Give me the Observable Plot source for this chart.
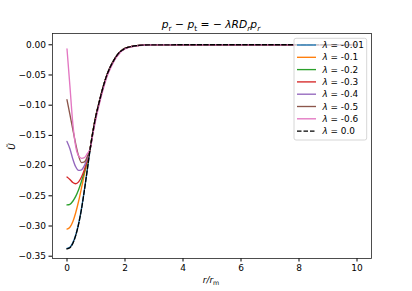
<!DOCTYPE html>
<html><head><meta charset="utf-8">
<script src="https://cdn.jsdelivr.net/npm/d3@7"></script>
<script src="https://cdn.jsdelivr.net/npm/@observablehq/plot@0.6"></script>
<style>body{margin:0;background:#fff} svg{display:block}</style>
</head><body><div id="chart"></div>
<script>
// r / r_m sample positions
const r = [0,0.1,0.2,0.3,0.4,0.5,0.6,0.7,0.8,0.9,1.0,1.1,1.2,1.3,1.4,1.5,1.6,1.7,1.8,1.9,2.0,2.2,2.4,2.6,3,4,5,6,7,8,9,10];
const lambdas = ["-0.01","-0.1","-0.2","-0.3","-0.4","-0.5","-0.6","0.0"];
const colors = ["#1f77b4","#ff7f0e","#2ca02c","#d62728","#9467bd","#8c564b","#e377c2","#000000"];
const xTicks = [0,2,4,6,8,10];
const yTicks = [0,-0.05,-0.10,-0.15,-0.20,-0.25,-0.30,-0.35];

const U_m001 = [-0.337,-0.335,-0.328,-0.315,-0.296,-0.271,-0.240,-0.206,-0.172,-0.142,-0.117,-0.097,-0.078,-0.061,-0.047,-0.036,-0.027,-0.019,-0.013,-0.009,-0.006,-0.003,-0.0015,-0.0006,-0.0001,0,0,0,0,0,0,0];
const U_m01  = [-0.305,-0.302,-0.293,-0.278,-0.259,-0.237,-0.214,-0.193,-0.171,-0.142,-0.117,-0.097,-0.078,-0.061,-0.047,-0.036,-0.027,-0.019,-0.013,-0.009,-0.006,-0.003,-0.0015,-0.0006,-0.0001,0,0,0,0,0,0,0];
const U_m02  = [-0.265,-0.264,-0.259,-0.251,-0.240,-0.226,-0.210,-0.192,-0.171,-0.142,-0.117,-0.097,-0.078,-0.061,-0.047,-0.036,-0.027,-0.019,-0.013,-0.009,-0.006,-0.003,-0.0015,-0.0006,-0.0001,0,0,0,0,0,0,0];
const U_m03  = [-0.219,-0.223,-0.228,-0.230,-0.227,-0.219,-0.207,-0.191,-0.172,-0.142,-0.117,-0.097,-0.078,-0.061,-0.047,-0.036,-0.027,-0.019,-0.013,-0.009,-0.006,-0.003,-0.0015,-0.0006,-0.0001,0,0,0,0,0,0,0];
const U_m04  = [-0.160,-0.172,-0.189,-0.202,-0.208,-0.207,-0.200,-0.188,-0.172,-0.143,-0.118,-0.097,-0.078,-0.061,-0.047,-0.036,-0.027,-0.019,-0.013,-0.009,-0.006,-0.003,-0.0015,-0.0006,-0.0001,0,0,0,0,0,0,0];
const U_m05  = [-0.091,-0.115,-0.140,-0.164,-0.184,-0.195,-0.194,-0.185,-0.172,-0.144,-0.119,-0.098,-0.079,-0.062,-0.048,-0.037,-0.027,-0.020,-0.014,-0.009,-0.006,-0.003,-0.0015,-0.0006,-0.0001,0,0,0,0,0,0,0];
const U_m06  = [-0.007,-0.068,-0.130,-0.168,-0.184,-0.188,-0.187,-0.180,-0.172,-0.146,-0.122,-0.101,-0.082,-0.065,-0.050,-0.039,-0.029,-0.021,-0.015,-0.010,-0.007,-0.0035,-0.0018,-0.0008,-0.0002,0,0,0,0,0,0,0];
const U_0    = [-0.338,-0.336,-0.329,-0.316,-0.297,-0.272,-0.241,-0.207,-0.172,-0.142,-0.117,-0.097,-0.078,-0.061,-0.047,-0.036,-0.027,-0.019,-0.013,-0.009,-0.006,-0.003,-0.0015,-0.0006,-0.0001,0,0,0,0,0,0,0];

const series = [U_m001,U_m01,U_m02,U_m03,U_m04,U_m05,U_m06,U_0];
const rows = [];
series.forEach((vals,i) => vals.forEach((v,j) => rows.push({r: r[j], U: v, s: lambdas[i]})));

const plot = Plot.plot({
  width: 412, height: 291,
  marginLeft: 52, marginRight: 41, marginTop: 33, marginBottom: 33,
  style: {fontFamily: "DejaVu Sans", fontSize: "9px", background: "white", color: "black"},
  x: {domain: [-0.5, 10.5], ticks: xTicks, tickSize: 3.5, tickPadding: 3, label: null},
  y: {domain: [-0.3538, 0.0187], ticks: yTicks, tickFormat: d3.format(".2f"), tickSize: 3.5, tickPadding: 3, label: null},
  color: {domain: lambdas, range: colors},
  marks: [
    Plot.line(rows.filter(d => d.s !== "0.0"), {x: "r", y: "U", stroke: "s", strokeWidth: 1.35, curve: "monotone-x"}),
    Plot.line(rows.filter(d => d.s === "0.0"), {x: "r", y: "U", stroke: "s", strokeWidth: 1.35, strokeDasharray: "4.5,2", curve: "monotone-x"}),
    Plot.frame({stroke: "#222", strokeWidth: 0.8})
  ]
});
document.getElementById("chart").appendChild(plot);

const svg = d3.select(plot);
// Title
const t = svg.append("text").attr("x", 211).attr("y", 28).attr("text-anchor", "middle")
  .style("font-family", "DejaVu Sans").style("font-size", "10.7px").style("fill", "black");
function part(txt, opts = {}) {
  const s = t.append("tspan").text(txt);
  if (opts.it) s.style("font-style", "italic");
  if (opts.dy) s.attr("dy", opts.dy);
  if (opts.fs) s.style("font-size", opts.fs);
  return s;
}
part("p", {it: true});
part("r", {dy: "2.5", fs: "7.5px"});
part(" − ", {dy: "-2.5"});
part("p", {it: true});
part("t", {dy: "2.5", fs: "7.5px"});
part(" = − ", {dy: "-2.5"});
part("λRD", {it: true});
part("r", {it: true, dy: "2.5", fs: "7.5px"});
part("p", {it: true, dy: "-2.5"});
part("r", {it: true, dy: "2.5", fs: "7.5px"});

// Axis labels
const xl = svg.append("text").attr("x", 211).attr("y", 283).attr("text-anchor", "middle")
  .style("font-family", "DejaVu Sans").style("font-size", "8.9px").style("fill", "black");
xl.append("tspan").text("r/r").style("font-style", "italic").style("fill", "black");
xl.append("tspan").text("m").attr("dy", "2").style("font-size", "6.3px").style("fill", "black");

svg.append("text").attr("transform", "translate(15,146.5) rotate(-90)").attr("text-anchor", "middle")
  .style("font-family", "DejaVu Sans").style("font-size", "8.9px").style("font-style", "italic")
  .style("fill", "black").text("Ũ");

// Legend
const lg = svg.append("g").attr("text-anchor", "start");
lg.append("rect").attr("x", 294).attr("y", 38.3).attr("width", 72.7).attr("height", 101.7)
  .attr("rx", 2).attr("fill", "white").attr("fill-opacity", 0.8).attr("stroke", "#ccc").attr("stroke-width", 0.8);
lambdas.forEach((l, i) => {
  const y = 45 + i * 12.3;
  lg.append("line").attr("x1", 297).attr("x2", 316).attr("y1", y).attr("y2", y)
    .attr("stroke", colors[i]).attr("stroke-width", 1.35)
    .attr("stroke-dasharray", l === "0.0" ? "4.5,2" : null);
  const tx = lg.append("text").attr("x", 322.5).attr("y", y).attr("dy", "0.35em").attr("text-anchor", "start")
    .style("font-family", "DejaVu Sans").style("font-size", "8.9px").style("fill", "black");
  tx.append("tspan").text("λ").style("font-style", "italic");
  tx.append("tspan").text(" = " + l);
});
</script>
</body></html>
